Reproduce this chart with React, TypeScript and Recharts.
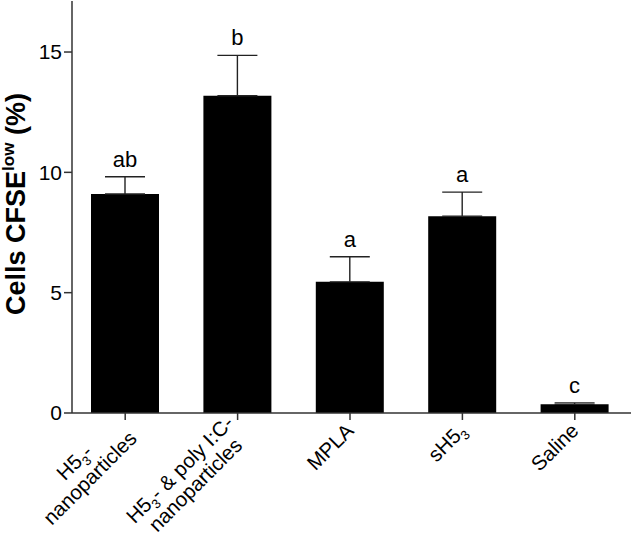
import React from 'react';
import { BarChart, Bar, XAxis, YAxis, ErrorBar, LabelList } from 'recharts';

const categories = ['H5₃-nanoparticles', 'H5₃- & poly I:C-nanoparticles', 'MPLA', 'sH5₃', 'Saline'];
const means = [9.1, 13.18, 5.45, 8.18, 0.36];
const sems = [0.72, 1.68, 1.04, 1.0, 0.06];
const letters = ['ab', 'b', 'a', 'a', 'c'];
const yTicks = [0, 5, 10, 15];

type Seg = [string, boolean];
const tickLabelLines: Seg[][][] = [
  [[['H5', false], ['3', true], ['-', false]], [['nanoparticles', false]]],
  [[['H5', false], ['3', true], ['- & poly I:C-', false]], [['nanoparticles', false]]],
  [[['MPLA', false]]],
  [[['sH5', false], ['3', true]]],
  [[['Saline', false]]],
];

const data = categories.map((name, i) => ({
  name,
  mean: means[i],
  err: [0, sems[i]],
}));

const FONT = '"Liberation Sans", Arial, Helvetica, sans-serif';
const LABEL_SIZE = 20.5;
const SUB_SIZE = 13;

let ctx: CanvasRenderingContext2D | null = null;
const measure = (text: string, size: number) => {
  if (!ctx) ctx = document.createElement('canvas').getContext('2d');
  if (!ctx) return text.length * size * 0.55;
  ctx.font = `${size}px "Liberation Sans"`;
  return ctx.measureText(text).width;
};

const XTick = (props: any) => {
  const { x, y, index } = props;
  const lines = tickLabelLines[index] || [];
  const widths = lines.map((line) =>
    line.reduce((s, [t, sub]) => s + measure(t, sub ? SUB_SIZE : LABEL_SIZE), 0)
  );
  const Lmax = Math.max(...widths);
  const lh = 22;
  const y0 = -((lines.length - 1) * lh) / 2;
  const ax = x + 5;
  const ay = y + 10;
  return (
    <g transform={`translate(${ax},${ay}) rotate(-45)`}>
      {lines.map((line, i) => {
        let shifted = false;
        return (
          <text
            key={i}
            x={-Lmax / 2}
            y={y0 + i * lh}
            textAnchor="middle"
            fontFamily={FONT}
            fontSize={LABEL_SIZE}
            fill="#000"
          >
            {line.map(([t, sub], j) => {
              let dy = 0;
              if (sub && !shifted) {
                dy = 5;
                shifted = true;
              } else if (!sub && shifted) {
                dy = -5;
                shifted = false;
              }
              return (
                <tspan key={j} dy={dy} fontSize={sub ? SUB_SIZE : LABEL_SIZE}>
                  {t}
                </tspan>
              );
            })}
          </text>
        );
      })}
    </g>
  );
};

const YLabel = (props: any) => {
  const { viewBox } = props;
  const cy = viewBox.y + viewBox.height / 2 - 3;
  const x = 25;
  return (
    <text
      x={x}
      y={cy}
      transform={`rotate(-90, ${x}, ${cy})`}
      textAnchor="middle"
      fontFamily={FONT}
      fontWeight="bold"
      fontSize={27}
      fill="#000"
    >
      Cells CFSE
      <tspan fontSize={17} dy={-11}>
        low
      </tspan>
      <tspan dy={11}> (%)</tspan>
    </text>
  );
};

const LetterLabel = (props: any) => {
  const { x, y, width, height, index } = props;
  const m = means[index];
  const pxPerUnit = m > 0 ? height / m : 0;
  const errTop = y - sems[index] * pxPerUnit;
  return (
    <text
      x={x + width / 2}
      y={errTop - 10}
      textAnchor="middle"
      fontFamily={FONT}
      fontSize={22}
      fill="#000"
    >
      {letters[index]}
    </text>
  );
};

export default function App() {
  return (
    <div style={{ position: 'absolute', left: 0, top: 0 }}>
      <BarChart
        width={632}
        height={547}
        data={data}
        margin={{ top: 1, right: 1, bottom: 0, left: 0 }}
        barCategoryGap={0}
      >
        <XAxis
          dataKey="name"
          height={134}
          interval={0}
          tick={<XTick />}
          tickSize={7}
          tickMargin={2}
          stroke="#333"
          strokeWidth={1.5}
          padding={{ left: -3, right: 0 }}
        />
        <YAxis
          width={72}
          domain={[0, 17.12]}
          ticks={yTicks}
          tickSize={8}
          tickMargin={2}
          stroke="#333"
          strokeWidth={1.5}
          tick={{ fill: '#000', fontSize: 21, fontFamily: FONT }}
          label={<YLabel />}
          allowDataOverflow
        />
        <Bar dataKey="mean" fill="#000" barSize={68} isAnimationActive={false}>
          <ErrorBar dataKey="err" width={20} stroke="#222" strokeWidth={1.4} direction="y" />
          <LabelList dataKey="mean" content={<LetterLabel />} />
        </Bar>
      </BarChart>
    </div>
  );
}
